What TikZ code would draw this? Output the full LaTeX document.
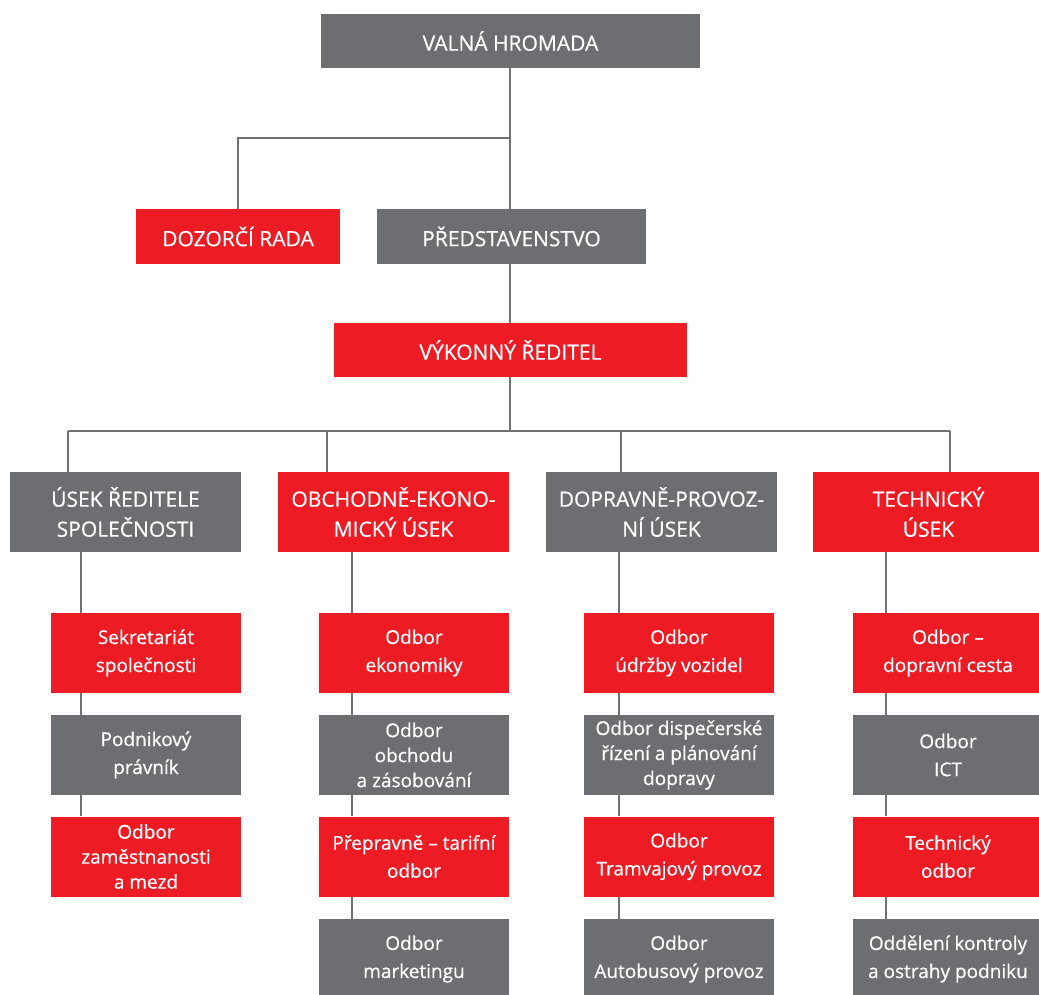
\documentclass[tikz,border=0pt]{standalone}
\usepackage{fontspec}
\setmainfont{Open Sans}[FakeBold=0.6]
\definecolor{boxgray}{HTML}{6D6E71}
\definecolor{boxred}{HTML}{ED1C24}
\definecolor{linegray}{HTML}{707174}
\begin{document}
\begin{tikzpicture}[x=1pt,y=-1pt,
  base/.style={rectangle, inner sep=0pt, text=white, align=center},
  gbox/.style={base, fill=boxgray},
  rbox/.style={base, fill=boxred},
  head/.style={font=\fontsize{21}{30}\selectfont},
  small/.style={font=\fontsize{19}{28}\selectfont},
  tight/.style={font=\fontsize{19}{25}\selectfont},
  top/.style={minimum height=54pt},
  lvl2/.style={minimum width=231pt, minimum height=80pt},
  sub/.style={minimum width=190pt, minimum height=80pt},
  conn/.style={draw=linegray, line width=2.8pt}]
\useasboundingbox (0,0) rectangle (1039,994);

% top part
\node[gbox,head,top,minimum width=379pt] (valna) at (510.5,41) {VALNÁ HROMADA};
\node[rbox,head,minimum width=204pt,minimum height=55pt] (dozor) at (238,236.5) {DOZORČÍ RADA};
\node[gbox,head,minimum width=269pt,minimum height=55pt] (pred) at (511.5,236.5) {PŘEDSTAVENSTVO};
\node[rbox,head,top,minimum width=353pt] (vykon) at (510.5,350) {VÝKONNÝ ŘEDITEL};

% level 2
\node[gbox,head,lvl2] (usek) at (125.5,512) {ÚSEK ŘEDITELE\\SPOLEČNOSTI};
\node[rbox,head,lvl2] (obch) at (393.5,512) {OBCHODNĚ-EKONO-\\MICKÝ ÚSEK};
\node[gbox,head,lvl2] (dopr) at (661.5,512) {DOPRAVNĚ-PROVOZ-\\NÍ ÚSEK};
\node[rbox,head,lvl2] (tech) at (928.5,512) {TECHNICKÝ\\ÚSEK};

% column 1
\node[rbox,small,sub] (a1) at (146,653) {Sekretariát\\společnosti};
\node[gbox,small,sub] (a2) at (146,755) {Podnikový\\právník};
\node[rbox,tight,sub] (a3) at (146,856.5) {Odbor\\zaměstnanosti\\a mezd};

% column 2
\node[rbox,small,sub] (b1) at (414,653) {Odbor\\ekonomiky};
\node[gbox,tight,sub] (b2) at (414,755) {Odbor\\obchodu\\a zásobování};
\node[rbox,small,sub] (b3) at (414,856.5) {Přepravně – tarifní\\odbor};
\node[gbox,small,sub] (b4) at (414,959) {Odbor\\marketingu};

% column 3
\node[rbox,small,sub] (c1) at (679,653) {Odbor\\údržby vozidel};
\node[gbox,tight,sub] (c2) at (679,755) {Odbor dispečerské\\řízení a plánování\\dopravy};
\node[rbox,small,sub] (c3) at (679,856.5) {Odbor\\Tramvajový provoz};
\node[gbox,small,sub] (c4) at (679,959) {Odbor\\Autobusový provoz};

% column 4
\node[rbox,small,sub] (d1) at (948,653) {Odbor –\\dopravní cesta};
\node[gbox,small,sub] (d2) at (948,755) {Odbor\\ICT};
\node[rbox,small,sub] (d3) at (948,856.5) {Technický\\odbor};
\node[gbox,small,sub] (d4) at (948,959) {Oddělení kontroly\\a ostrahy podniku};

% connectors top
\coordinate (fork) at (510,138);
\coordinate (bus) at (510,431);
\draw[conn] (valna.south -| fork) -- (fork |- pred.north);
\draw[conn] (fork) -| (dozor.north);
\draw[conn] (pred.south -| fork) -- (fork |- vykon.north);
\draw[conn] (vykon.south -| bus) -- (bus);

% bus to level 2
\coordinate (u1) at (68,431);
\coordinate (u2) at (327,431);
\coordinate (u3) at (621,431);
\coordinate (u4) at (950,431);
\draw[conn] (u1) -- (u4);
\draw[conn] (u1) -- (u1 |- usek.north);
\draw[conn] (u2) -- (u2 |- obch.north);
\draw[conn] (u3) -- (u3 |- dopr.north);
\draw[conn] (u4) -- (u4 |- tech.north);

% column lines
\coordinate (x1) at (81,0);
\coordinate (x2) at (352,0);
\coordinate (x3) at (619,0);
\coordinate (x4) at (886,0);
\draw[conn] (usek.south -| x1) -- (a1.north -| x1);
\draw[conn] (a1.south -| x1) -- (a2.north -| x1);
\draw[conn] (a2.south -| x1) -- (a3.north -| x1);

\draw[conn] (obch.south -| x2) -- (b1.north -| x2);
\draw[conn] (b1.south -| x2) -- (b2.north -| x2);
\draw[conn] (b2.south -| x2) -- (b3.north -| x2);
\draw[conn] (b3.south -| x2) -- (b4.north -| x2);

\draw[conn] (dopr.south -| x3) -- (c1.north -| x3);
\draw[conn] (c1.south -| x3) -- (c2.north -| x3);
\draw[conn] (c2.south -| x3) -- (c3.north -| x3);
\draw[conn] (c3.south -| x3) -- (c4.north -| x3);

\draw[conn] (tech.south -| x4) -- (d1.north -| x4);
\draw[conn] (d1.south -| x4) -- (d2.north -| x4);
\draw[conn] (d2.south -| x4) -- (d3.north -| x4);
\draw[conn] (d3.south -| x4) -- (d4.north -| x4);
\end{tikzpicture}
\end{document}
